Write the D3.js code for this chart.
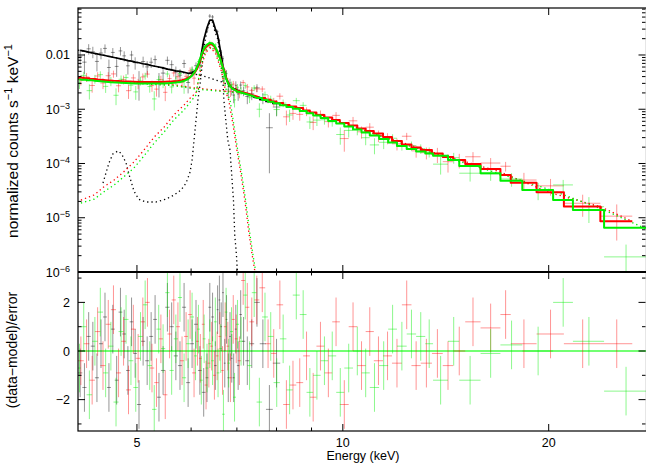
<!DOCTYPE html>
<html>
<head>
<meta charset="utf-8">
<script src="https://cdn.jsdelivr.net/npm/d3@7"></script>
<style>
  body { margin: 0; background: #fff; }
  svg { display: block; }
  text { font-family: "Liberation Sans", Arial, Helvetica, sans-serif; fill: #000; }
</style>
</head>
<body>
<svg id="chart" width="646" height="466"></svg>
<script>
// ---------------- spectral data (three detectors) ----------------
// bin edges (keV), folded model per bin, data, 1-sigma errors, residuals

const blackEdges = [4.10,4.16,4.22,4.28,4.34,4.40,4.46,4.52,4.58,4.64,4.70,4.76,4.82,4.88,4.94,5.00,5.07,5.14,5.21,5.28,5.35,5.42,5.50,5.58,5.66,5.74,5.82,5.90,5.98,6.06,6.14,6.22,6.30,6.36,6.42,6.48,6.54,6.58,6.62,6.66,6.70,6.74,6.78,6.82,6.86,6.90,6.95,7.00,7.06,7.12,7.20,7.30,7.42,7.56,7.72,7.90,8.10];
const blackModel = [.0122,.0118,.0113,.0109,.0105,.0101,.0098,.0094,.0091,.0088,.0085,.0082,.0079,.0077,.0074,.0072,.0069,.0067,.0064,.0062,.0060,.0058,.0055,.0053,.0051,.0050,.0048,.0046,.0047,.0053,.0074,.0189,.0317,.0442,.0440,.0305,.0234,.0153,.0100,.0063,.0047,.0036,.0030,.0027,.0025,.0024,.0023,.0022,.0021,.0020,.00191,.00179,.00165,.00151,.00139,.00128];
const blackData = [.00946,.00738,.0130,.01145,.00761,.01086,.01323,.00588,.01115,.00616,.0119,.00964,.00632,.01001,.00722,.00324,.00759,.00603,.00736,.00822,.00315,.00464,.00798,.00663,.00485,.00425,.00696,.00311,.00498,.00635,.00657,.01569,.02891,.0522,.0502,.02904,.02698,.01851,.0112,.00857,.00428,.00454,.00227,.00306,.00234,.00182,.00276,.00191,.00279,.00218,.00172,.00192,.00248,.00162,.000456,.0011];
const blackErr = [.00305,.00295,.00283,.00273,.00263,.00253,.00245,.00235,.00228,.0022,.00213,.00205,.00198,.00193,.00185,.0018,.00173,.00168,.0016,.00155,.0015,.00145,.00138,.00133,.00128,.00125,.0012,.00115,.00094,.00095,.00104,.00189,.00254,.00442,.0044,.00244,.00211,.00153,.0012,.00095,.00085,.00072,.00066,.00059,.00055,.00053,.00051,.00048,.00046,.00044,.00048,.00045,.00041,.00038,.00039,.00036];
const blackResid = [-0.9,-1.5,0.6,0.2,-1.1,0.3,1.4,-1.5,0.9,-1.2,1.6,0.7,-0.8,1.2,-0.1,-2.2,0.4,-0.4,0.6,1.3,-1.9,-0.8,1.8,1.0,-0.2,-0.6,1.8,-1.3,0.3,1.1,-0.8,-1.7,-1.1,1.8,1.4,-0.6,1.7,2.1,1.0,2.4,-0.5,1.3,-1.1,0.6,-0.3,-1.1,0.9,-0.6,1.5,0.4,-0.4,0.3,2.0,0.3,-2.4,-0.5];

const redEdges = [4.10,4.18,4.26,4.34,4.42,4.50,4.58,4.66,4.74,4.82,4.90,4.98,5.06,5.14,5.22,5.30,5.38,5.46,5.54,5.62,5.70,5.78,5.86,5.94,6.02,6.10,6.16,6.22,6.28,6.34,6.40,6.46,6.52,6.58,6.64,6.70,6.76,6.82,6.88,6.95,7.02,7.10,7.20,7.30,7.42,7.55,7.70,7.85,8.00,8.18,8.36,8.55,8.75,8.95,9.15,9.40,9.65,9.90,10.2,10.5,10.8,11.1,11.45,11.8,12.2,12.6,13.0,13.5,14.0,14.5,15.1,15.9,17.0,17.6,19.2,21.05,23.8,26.5];
const redModel = [.0038,.00371,.00361,.00353,.00346,.0034,.00334,.0033,.00326,.00323,.0032,.00318,.00318,.00318,.00318,.00318,.00318,.0032,.00323,.00328,.00332,.00342,.00361,.00393,.00456,.00576,.0081,.01186,.01404,.0156,.016,.01436,.0116,.009,.00627,.00428,.00318,.00262,.00236,.00222,.00212,.00204,.00195,.00183,.00172,.00161,.00148,.00139,.0013,.0012,.00112,.00105,.00095,.00087,.00078,.000705,.000634,.000558,.000502,.000442,.000397,.000357,.000308,.00026,.000224,.000197,.000177,.000153,.000132,.000116,.000098,.0000793,.0000614,.0000443,.0000294,.0000161,.0000086];
const redData = [.0035,.00393,.00274,.0041,.00304,.00415,.00448,.00271,.00352,.0022,.00378,.00299,.00394,.00445,.00273,.00235,.0035,.00205,.00368,.00466,.00398,.00315,.00404,.00511,.00374,.00611,.00781,.01316,.01227,.01498,.01626,.01321,.01139,.00954,.00567,.00488,.00328,.00213,.00291,.00242,.00197,.0031,.00258,.00223,.00237,.00236,.00156,.00137,.00174,.000725,.000838,.000804,.000916,.000572,.000808,.000591,.000771,.000288,.000612,.000384,.000467,.000326,.000294,.000231,.000318,.000171,.000158,.000148,.000108,.000116,.000133,.000102,.000089,.0000496,.0000387,.0000185,.0000107];
const redErr = [.00076,.00074,.00072,.00071,.00069,.00068,.00067,.00066,.00065,.00065,.00064,.00064,.00064,.00064,.00064,.00064,.00064,.00064,.00065,.00066,.00066,.00068,.00072,.00079,.00091,.00086,.00097,.00119,.00126,.00125,.00128,.00115,.00104,.0009,.00075,.0006,.00051,.00045,.00042,.0004,.00038,.00037,.00035,.00033,.00031,.00029,.00027,.00025,.00023,.00022,.0002,.00019,.00017,.00016,.00014,.00013,.000114,.000123,.00011,.000097,.000087,.000079,.000068,.000057,.000049,.000043,.000039,.000046,.00004,.000035,.000029,.000024,.000018,.0000177,.0000132,.0000081,.0000069];
const redResid = [-0.4,0.3,-1.2,0.8,-0.6,1.1,1.7,-0.9,0.4,-1.6,0.9,-0.3,1.2,2.0,-0.7,-1.3,0.5,-1.8,0.7,2.1,1.0,-0.4,0.6,1.5,-0.9,0.4,-0.3,1.1,-1.4,-0.5,0.2,-1.0,-0.2,0.6,-0.8,1.0,0.2,-1.1,1.3,0.5,-0.4,2.9,1.8,1.2,2.1,2.6,0.3,-0.1,1.9,-2.2,-1.4,-1.3,-0.2,-1.9,0.2,-0.9,1.2,-2.2,1.0,-0.6,0.8,-0.4,-0.2,-0.5,1.9,-0.6,-0.5,-0.1,-0.6,0.0,1.2,0.95,1.5,0.3,0.7,0.3,0.3];

const greenEdges = [4.10,4.14,4.22,4.30,4.38,4.46,4.54,4.62,4.70,4.78,4.86,4.94,5.02,5.10,5.18,5.26,5.34,5.42,5.50,5.58,5.66,5.74,5.82,5.90,5.98,6.06,6.12,6.18,6.24,6.30,6.36,6.42,6.48,6.54,6.60,6.66,6.72,6.78,6.84,6.91,6.98,7.05,7.15,7.25,7.36,7.48,7.62,7.77,7.92,8.09,8.27,8.45,8.65,8.85,9.05,9.28,9.52,9.78,10.05,10.35,10.65,10.95,11.3,11.65,12.0,12.4,12.8,13.2,13.55,14.25,14.8,15.9,17.0,18.3,20.3,21.7,24.1,27.8];
const greenModel = [.00358,.00351,.00343,.00336,.00329,.00322,.00316,.00312,.00308,.00305,.00302,.00299,.00298,.00298,.00298,.00298,.00298,.00299,.00302,.00306,.0031,.00318,.00332,.00361,.00419,.00518,.00682,.01,.01346,.0156,.01665,.0163,.01404,.01089,.00792,.0054,.00369,.00286,.00247,.00227,.00212,.00204,.00193,.00183,.00172,.00161,.00148,.00138,.00129,.00119,.0011,.00102,.00093,.00084,.00077,.00069,.00061,.000546,.000481,.000424,.000373,.000328,.000283,.000244,.00021,.000185,.000166,.000153,.000139,.000116,.00009,.000066,.0000482,.0000325,.0000212,.0000139,.00000656];
const greenData = [.00308,.00421,.0022,.00363,.00434,.00264,.00329,.00181,.00357,.00384,.00278,.00209,.00334,.00411,.00262,.00155,.00352,.00305,.00447,.00257,.00341,.00458,.00259,.00383,.00536,.00502,.00756,.0088,.01407,.01473,.01705,.01578,.01539,.01001,.008,.00372,.00452,.00263,.00281,.00149,.00254,.00219,.00273,.00163,.00246,.001,.00185,.00153,.000988,.0013,.000783,.00144,.00118,.000583,.000631,.00064,.000588,.000342,.000407,.000424,.000299,.00022,.000246,.000292,.000219,.000213,.000188,.000163,.0000973,.000128,.0000662,.0000644,.0000518,.0000325,.0000403,.000016,.0000019];
const greenErr = [.00072,.0007,.00069,.00067,.00066,.00064,.00063,.00062,.00062,.00061,.0006,.0006,.0006,.0006,.0006,.0006,.0006,.0006,.0006,.00061,.00062,.00064,.00066,.00072,.00084,.00078,.00082,.001,.00121,.00125,.00133,.0013,.00112,.00098,.00079,.00065,.00052,.00046,.00042,.00041,.00038,.00037,.00035,.00033,.00031,.00029,.00027,.00025,.00023,.00021,.0002,.00018,.00017,.00015,.00014,.00012,.00011,.00012,.000106,.000093,.000082,.000072,.000062,.000054,.000046,.000041,.000037,.000034,.0000348,.000029,.0000198,.0000165,.0000145,.0000114,.0000095,.000008,.0000013];
const greenResid = [-0.7,1.0,-1.8,0.4,1.6,-0.9,0.2,-2.1,0.8,1.3,-0.4,-1.5,0.6,1.9,-0.6,-2.4,0.9,0.1,2.4,-0.8,0.5,2.2,-1.1,0.3,1.4,-0.2,0.9,-1.2,0.5,-0.7,0.3,-0.4,1.2,-0.9,0.1,-2.6,1.6,-0.5,0.8,-1.9,1.1,0.4,2.3,-0.6,2.4,-2.1,1.4,0.6,-1.3,0.5,-1.6,2.3,1.5,-1.7,-1.0,-0.4,-0.2,-1.7,-0.7,0.0,-0.9,-1.5,-0.6,0.9,0.2,0.7,0.6,0.3,-1.2,0.4,-1.2,-0.1,0.25,0.0,2.0,0.4,-1.65];

// ---------------- model components (dotted) ----------------
const blackContE = [4.10,4.50,5.00,5.50,5.90,6.10,6.30,6.50,6.70,6.86,7.00,7.30,7.70,8.10];
const blackContV = [.0123,.0097,.0073,.0056,.0046,.0044,.0040,.0035,.0031,.00255,.0022,.00185,.00148,.00126];
const blackLineE = [4.46,4.50,4.55,4.61,4.69,4.75,4.82,4.88,4.95,5.03,5.15,5.33,5.51,5.66,5.80,5.90,5.98,6.02,6.06,6.10,6.14,6.19,6.27,6.33,6.39,6.45,6.50,6.56,6.60,6.64,6.68,6.70,6.75,6.79,6.84,6.88,6.92,6.95,6.99,7.01,7.04];
const blackLineV = [4.38e-5,6.4e-5,1.02e-4,1.5e-4,1.7e-4,1.5e-4,1.02e-4,5.64e-5,3.1e-5,2.2e-5,1.95e-5,1.95e-5,2.2e-5,2.6e-5,3.25e-5,4.38e-5,6.97e-5,1.16e-4,2.7e-4,6.3e-4,1.48e-3,3.2e-3,.0149,.0278,.0405,.0404,.027,.020,.012,.0068,.0032,1.48e-3,5.6e-4,2.7e-4,1.77e-4,6.1e-5,2.1e-5,4.8e-6,2.05e-6,1.09e-6,5.3e-7];

const redContE = [4.10,4.42,4.90,5.33,5.69,6.10,6.42,6.75,7.10,7.50,8.00,9.00,10.0,12.0,14.0,17.0,20.0,23.8,26.5];
const redContV = [.0038,.00346,.0032,.0030,.0028,.00245,.0023,.00215,.00204,.00171,.00135,.00087,.000558,.00026,.000142,.00007,.0000294,.000016,.0000086];
const redLineE = [4.14,4.33,4.47,4.63,4.78,4.95,5.12,5.30,5.48,5.66,5.86,6.00,6.10,6.20,6.30,6.41,6.52,6.64,6.75,6.81,6.91,7.00,7.10,7.19,7.29,7.37,7.44,7.49];
const redLineV = [2.12e-5,2.63e-5,3.69e-5,4.97e-5,6.97e-5,1.07e-4,1.77e-4,3.08e-4,4.71e-4,7.84e-4,1.2e-3,1.68e-3,2.0e-3,5.6e-3,.0111,.0136,.0105,.0052,2.0e-3,1.48e-3,5.13e-4,1.77e-4,6.1e-5,2.1e-5,5.24e-6,2.05e-6,1.0e-6,6.5e-7];

const greenContE = [4.10,4.42,4.90,5.33,5.69,6.10,6.42,6.75,7.10,7.50,8.00,9.00,10.0,12.0,14.0,17.0,20.0,24.1,27.8];
const greenContV = [.00358,.00329,.00302,.00285,.0027,.00235,.00222,.0021,.002,.00168,.00132,.00086,.00055,.000248,.000136,.000064,.0000335,.0000139,.0000062];
const greenLineE = [4.14,4.33,4.47,4.63,4.78,4.95,5.12,5.30,5.48,5.66,5.86,6.00,6.10,6.20,6.30,6.41,6.52,6.64,6.77,6.84,6.93,7.02,7.12,7.21,7.31,7.39,7.46,7.51];
const greenLineV = [1.87e-5,2.2e-5,2.99e-5,4.02e-5,5.64e-5,8.26e-5,1.38e-4,2.39e-4,3.81e-4,6.34e-4,9.7e-4,1.42e-3,1.83e-3,6.4e-3,.0121,.0143,.0115,.0056,2.0e-3,1.48e-3,5.13e-4,1.77e-4,6.1e-5,2.1e-5,5.24e-6,2.05e-6,1.0e-6,6.5e-7];

// ---------------- axis ticks ----------------
const xMajorTicks = [5, 10, 20];
const xMinorTicks = [6, 7, 8, 9];
const xTickLabels = ["5", "10", "20"];
const yTopMajor = [1e-6, 1e-5, 1e-4, 1e-3, 1e-2];
const yTopLabels = [["10","\u22126"],["10","\u22125"],["10","\u22124"],["10","\u22123"],["0.01",""]];
const resMajor = [-2, 0, 2];
const resMinor = [-3, -1, 1, 3];
const resLabels = ["\u22122", "0", "2"];

// ---------------- layout ----------------
const svg = d3.select("#chart");
const L = 78, R = 646.5, T = 8, M = 272, B = 431;

const x = d3.scaleLog().domain([4.1, 27.8]).range([L, R]);
const yTop = d3.scaleLog().domain([1e-6, 0.0735]).range([M, T]);
const yRes = d3.scaleLinear().domain([-3.29, 3.25]).range([B, M]);

const defs = svg.append("defs");
defs.append("clipPath").attr("id", "clipTop")
  .append("rect").attr("x", L).attr("y", T).attr("width", R - L).attr("height", M - T);
defs.append("clipPath").attr("id", "clipRes")
  .append("rect").attr("x", L).attr("y", M).attr("width", R - L).attr("height", B - M);

function rows(edges, model, data, err, resid) {
  return model.map((m, i) => ({
    lo: edges[i], hi: edges[i + 1], m: m, v: data[i], s: err[i], r: resid[i]
  }));
}

const sets = [
  { rows: rows(blackEdges, blackModel, blackData, blackErr, blackResid),
    col: "#000000", op: 0.42, lw: 1.7,
    comps: [[blackContE, blackContV], [blackLineE, blackLineV]] },
  { rows: rows(redEdges, redModel, redData, redErr, redResid),
    col: "#ff0000", op: 0.42, lw: 2,
    comps: [[redContE, redContV], [redLineE, redLineV]] },
  { rows: rows(greenEdges, greenModel, greenData, greenErr, greenResid),
    col: "#00ee00", op: 0.45, lw: 2,
    comps: [[greenContE, greenContV], [greenLineE, greenLineV]] }
];

const gTop = svg.append("g").attr("clip-path", "url(#clipTop)");
const gRes = svg.append("g").attr("clip-path", "url(#clipRes)");

// data crosses, upper panel
sets.forEach(s => {
  const g = gTop.append("g").attr("stroke", s.col).attr("stroke-opacity", s.op).attr("stroke-width", 1);
  g.selectAll("line.h").data(s.rows).join("line").attr("class", "h")
    .attr("x1", d => x(d.lo)).attr("x2", d => x(d.hi))
    .attr("y1", d => yTop(d.v)).attr("y2", d => yTop(d.v));
  g.selectAll("line.v").data(s.rows).join("line").attr("class", "v")
    .attr("x1", d => x((d.lo + d.hi) / 2)).attr("x2", d => x((d.lo + d.hi) / 2))
    .attr("y1", d => d.v - d.s > 0 ? yTop(d.v - d.s) : M + 2)
    .attr("y2", d => yTop(d.v + d.s));
});

// residual zero line
gRes.append("line").attr("x1", L).attr("x2", R).attr("y1", yRes(0)).attr("y2", yRes(0))
  .attr("stroke", "#00ff00").attr("stroke-opacity", 0.55).attr("stroke-width", 2);

// residual crosses
sets.forEach(s => {
  const g = gRes.append("g").attr("stroke", s.col).attr("stroke-opacity", s.op).attr("stroke-width", 1);
  g.selectAll("line.h").data(s.rows).join("line").attr("class", "h")
    .attr("x1", d => x(d.lo)).attr("x2", d => x(d.hi))
    .attr("y1", d => yRes(d.r)).attr("y2", d => yRes(d.r));
  g.selectAll("line.v").data(s.rows).join("line").attr("class", "v")
    .attr("x1", d => x((d.lo + d.hi) / 2)).attr("x2", d => x((d.lo + d.hi) / 2))
    .attr("y1", d => yRes(d.r - 1)).attr("y2", d => yRes(d.r + 1));
});

// dotted model components
const compLine = d3.line().x(d => x(d[0])).y(d => yTop(d[1]));
sets.forEach(s => {
  s.comps.forEach(([E, V]) => {
    gTop.append("path").datum(E.map((e, i) => [e, V[i]]))
      .attr("d", compLine).attr("fill", "none")
      .attr("stroke", s.col).attr("stroke-width", 1.3)
      .attr("stroke-dasharray", "1.3,3");
  });
});

// folded model: narrow bins traced through their centres, wide bins drawn as steps
const modelLine = d3.line().x(d => x(d[0])).y(d => yTop(d[1]));
sets.forEach(s => {
  const pts = s.rows.flatMap(d => (x(d.hi) - x(d.lo) > 5.5)
    ? [[d.lo, d.m], [d.hi, d.m]]
    : [[(d.lo + d.hi) / 2, d.m]]);
  gTop.append("path").datum(pts).attr("d", modelLine).attr("fill", "none")
    .attr("stroke", s.col).attr("stroke-width", s.lw).attr("stroke-linejoin", "round");
});

// ---------------- frame & ticks ----------------
const axes = svg.append("g").attr("stroke", "#000").attr("fill", "none");
axes.append("rect").attr("x", L).attr("y", T).attr("width", R - L).attr("height", B - T)
  .attr("stroke-width", 1.2);
axes.append("line").attr("x1", L).attr("x2", R).attr("y1", M).attr("y2", M).attr("stroke-width", 1.8);

function xTicks(yBase, dir) {
  xMajorTicks.forEach(e => axes.append("line").attr("x1", x(e)).attr("x2", x(e))
    .attr("y1", yBase).attr("y2", yBase + dir * 7));
  xMinorTicks.forEach(e => axes.append("line").attr("x1", x(e)).attr("x2", x(e))
    .attr("y1", yBase).attr("y2", yBase + dir * 3.5));
}
xTicks(T, 1); xTicks(M, -1); xTicks(M, 1); xTicks(B, -1);

const yMinor = [];
for (let n = -6; n <= -2; n++) for (let k = 2; k <= 9; k++) {
  const v = k * Math.pow(10, n);
  if (v < 0.0735) yMinor.push(v);
}
[[L, 1], [R - 1, -1]].forEach(([xb, dir]) => {
  yTopMajor.forEach(v => axes.append("line").attr("x1", xb).attr("x2", xb + dir * 7)
    .attr("y1", yTop(v)).attr("y2", yTop(v)));
  yMinor.forEach(v => axes.append("line").attr("x1", xb).attr("x2", xb + dir * 3.5)
    .attr("y1", yTop(v)).attr("y2", yTop(v)));
  resMajor.forEach(v => axes.append("line").attr("x1", xb).attr("x2", xb + dir * 7)
    .attr("y1", yRes(v)).attr("y2", yRes(v)));
  resMinor.forEach(v => axes.append("line").attr("x1", xb).attr("x2", xb + dir * 3.5)
    .attr("y1", yRes(v)).attr("y2", yRes(v)));
});

// ---------------- labels ----------------
const fs = 12.5;
yTopMajor.forEach((v, i) => {
  const t = svg.append("text").attr("x", 70).attr("y", yTop(v) + 4.5)
    .attr("text-anchor", "end").attr("font-size", fs);
  t.append("tspan").text(yTopLabels[i][0]);
  if (yTopLabels[i][1]) t.append("tspan").attr("dy", -5).attr("font-size", 9).text(yTopLabels[i][1]);
});
resMajor.forEach((v, i) => {
  svg.append("text").attr("x", 70).attr("y", yRes(v) + 4.5)
    .attr("text-anchor", "end").attr("font-size", fs).text(resLabels[i]);
});
xMajorTicks.forEach((e, i) => {
  svg.append("text").attr("x", x(e)).attr("y", 447)
    .attr("text-anchor", "middle").attr("font-size", fs).text(xTickLabels[i]);
});
svg.append("text").attr("x", 363).attr("y", 460).attr("text-anchor", "middle")
  .attr("font-size", fs).text("Energy (keV)");

const yt = svg.append("text").attr("transform", "translate(18,141) rotate(-90)")
  .attr("text-anchor", "middle").attr("font-size", 15.5);
yt.append("tspan").text("normalized counts s");
yt.append("tspan").attr("dy", -6).attr("font-size", 11).text("\u22121");
yt.append("tspan").attr("dy", 6).text(" keV");
yt.append("tspan").attr("dy", -6).attr("font-size", 11).text("\u22121");

svg.append("text").attr("transform", "translate(17,350) rotate(-90)")
  .attr("text-anchor", "middle").attr("font-size", 14).text("(data\u2212model)/error");
</script>
</body>
</html>
